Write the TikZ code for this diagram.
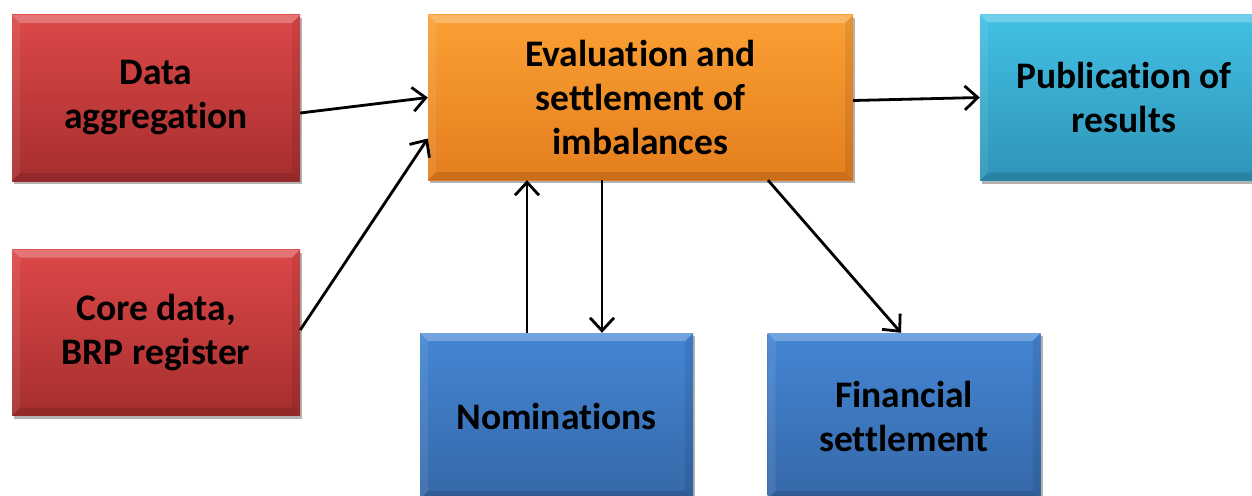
\documentclass[tikz,border=0pt]{standalone}
\usepackage{fontspec}
\setmainfont{Carlito}[Ligatures=NoCommon]
\usetikzlibrary{arrows.meta,shadows,calc}
\definecolor{redtop}{RGB}{221,72,72}
\definecolor{redbot}{RGB}{166,46,46}
\definecolor{orgtop}{RGB}{251,160,52}
\definecolor{orgbot}{RGB}{228,126,30}
\definecolor{cyantop}{RGB}{66,192,228}
\definecolor{cyanbot}{RGB}{46,148,184}
\definecolor{bluetop}{RGB}{68,134,212}
\definecolor{bluebot}{RGB}{54,104,168}
\tikzset{
  basebox/.style={rectangle, inner sep=0pt, align=center,
    font=\bfseries\fontsize{37.5}{44}\selectfont, text=black,
    drop shadow={shadow xshift=2pt, shadow yshift=-3pt, opacity=0.3, fill=black},
    path picture={
      \fill[white,opacity=0.25] (path picture bounding box.north west) -- (path picture bounding box.north east)
        -- ([xshift=-8pt,yshift=-8pt]path picture bounding box.north east) -- ([xshift=8pt,yshift=-8pt]path picture bounding box.north west) -- cycle;
      \fill[white,opacity=0.08] (path picture bounding box.north west) -- ([xshift=8pt,yshift=-8pt]path picture bounding box.north west)
        -- ([xshift=8pt,yshift=8pt]path picture bounding box.south west) -- (path picture bounding box.south west) -- cycle;
      \fill[black,opacity=0.08] (path picture bounding box.north east) -- ([xshift=-8pt,yshift=-8pt]path picture bounding box.north east)
        -- ([xshift=-8pt,yshift=8pt]path picture bounding box.south east) -- (path picture bounding box.south east) -- cycle;
      \fill[black,opacity=0.12] (path picture bounding box.south west) -- (path picture bounding box.south east)
        -- ([xshift=-8pt,yshift=8pt]path picture bounding box.south east) -- ([xshift=8pt,yshift=8pt]path picture bounding box.south west) -- cycle;
    }},
  redbox/.style={basebox, top color=redtop, bottom color=redbot, minimum width=288pt, minimum height=166pt},
  orgbox/.style={basebox, top color=orgtop, bottom color=orgbot, minimum width=425pt, minimum height=165pt},
  cyanbox/.style={basebox, top color=cyantop, bottom color=cyanbot, minimum width=288pt, minimum height=166pt},
  bluebox/.style={basebox, top color=bluetop, bottom color=bluebot, minimum width=273pt, minimum height=166pt},
  conn/.style={line width=2.8pt, -{Straight Barb[length=13pt,width=24pt]}}
}
\begin{document}
\begin{tikzpicture}[x=1pt,y=-1pt]
\useasboundingbox (0,0) rectangle (1252,495);
\clip (0,0) rectangle (1252,495);
\node[redbox] (agg) at (156,98) {Data\\aggregation};
\node[redbox] (core) at (156,332.5) {Core data,\\BRP register};
\node[orgbox] (eval) at (640.5,97.5) {Evaluation and\\settlement of\\imbalances};
\node[cyanbox] (pub) at (1124,97.5) {Publication of\\results};
\node[bluebox] (nom) at (556.5,416) {Nominations};
\node[bluebox] (fin) at (904,416) {Financial\\settlement};

\draw[conn] ($(agg.east)+(0,15)$) -- (eval.west);
\draw[conn] ($(core.east)+(0,-2.5)$) -- ($(eval.west)+(0,41)$);
\draw[conn] ($(nom.north)+(-29.5,0)$) -- ($(eval.south)+(-113.5,0)$);
\draw[conn] ($(eval.south)+(-38.5,0)$) -- ($(nom.north)+(45.5,0)$);
\draw[conn] ($(eval.south)+(127.5,0)$) -- ($(fin.north)+(-3,0)$);
\draw[conn] ($(eval.east)+(0,3)$) -- (pub.west);
\end{tikzpicture}
\end{document}
